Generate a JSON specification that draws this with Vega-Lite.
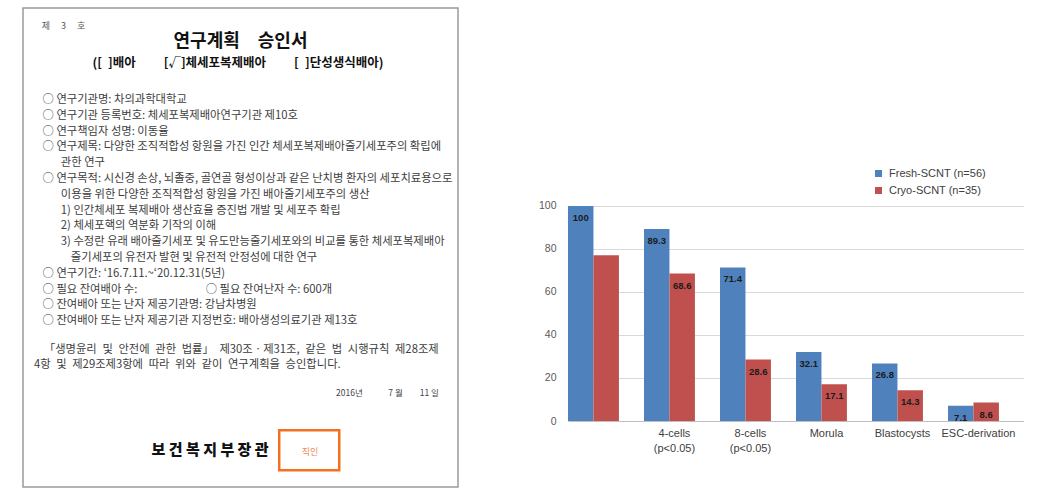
{
  "$schema": "https://vega.github.io/schema/vega-lite/v6.json",
  "padding": {"left": 22, "top": 7, "right": 0, "bottom": 0},
  "background": "white",
  "spacing": 79,
  "config": {"view": {"stroke": null}, "font": "Liberation Sans"},
  "datasets": {
    "bars": [
      {"stage": "", "series": "Fresh-SCNT (n=56)", "value": 100, "labeled": true},
      {"stage": "", "series": "Cryo-SCNT (n=35)", "value": 77.1, "labeled": false},
      {"stage": "4-cells (p<0.05)", "series": "Fresh-SCNT (n=56)", "value": 89.3, "labeled": true},
      {"stage": "4-cells (p<0.05)", "series": "Cryo-SCNT (n=35)", "value": 68.6, "labeled": true},
      {"stage": "8-cells (p<0.05)", "series": "Fresh-SCNT (n=56)", "value": 71.4, "labeled": true},
      {"stage": "8-cells (p<0.05)", "series": "Cryo-SCNT (n=35)", "value": 28.6, "labeled": true},
      {"stage": "Morula", "series": "Fresh-SCNT (n=56)", "value": 32.1, "labeled": true},
      {"stage": "Morula", "series": "Cryo-SCNT (n=35)", "value": 17.1, "labeled": true},
      {"stage": "Blastocysts", "series": "Fresh-SCNT (n=56)", "value": 26.8, "labeled": true},
      {"stage": "Blastocysts", "series": "Cryo-SCNT (n=35)", "value": 14.3, "labeled": true},
      {"stage": "ESC-derivation", "series": "Fresh-SCNT (n=56)", "value": 7.1, "labeled": true},
      {"stage": "ESC-derivation", "series": "Cryo-SCNT (n=35)", "value": 8.6, "labeled": true}
    ],
    "doc": [
      {"part": "header", "line": -4.68, "col": 4.3, "text": "제\u2003 3\u2003 호"},
      {"part": "title", "line": -3.68, "col": 50, "text": "연구계획\u2003승인서"},
      {"part": "subtitle", "line": -2.32, "col": 49.4, "text": "([\u2002]배아\u2003\u2003 [√]체세포복제배아\u2003\u2003 [\u2002]단성생식배아)"},
      {"part": "body", "line": 0, "col": 4.5, "text": "○ 연구기관명: 차의과학대학교"},
      {"part": "body", "line": 1, "col": 4.5, "text": "○ 연구기관 등록번호: 체세포복제배아연구기관 제10호"},
      {"part": "body", "line": 2, "col": 4.5, "text": "○ 연구책임자 성명: 이동율"},
      {"part": "body", "line": 3, "col": 4.5, "text": "○ 연구제목: 다양한 조직적합성 항원을 가진 인간 체세포복제배아줄기세포주의 확립에"},
      {"part": "body", "line": 4, "col": 8.7, "text": "관한 연구"},
      {"part": "body", "line": 5, "col": 4.5, "text": "○ 연구목적: 시신경 손상, 뇌졸중, 골연골 형성이상과 같은 난치병 환자의 세포치료용으로"},
      {"part": "body", "line": 6, "col": 8.7, "text": "이용을 위한 다양한 조직적합성 항원을 가진 배아줄기세포주의 생산"},
      {"part": "body", "line": 7, "col": 8.7, "text": "1) 인간체세포 복제배아 생산효율 증진법 개발 및 세포주 확립"},
      {"part": "body", "line": 8, "col": 8.7, "text": "2) 체세포핵의 역분화 기작의 이해"},
      {"part": "body", "line": 9, "col": 8.7, "text": "3) 수정란 유래 배아줄기세포 및 유도만능줄기세포와의 비교를 통한 체세포복제배아"},
      {"part": "body", "line": 10, "col": 11, "text": "줄기세포의 유전자 발현 및 유전적 안정성에 대한 연구"},
      {"part": "body", "line": 11, "col": 4.5, "text": "○ 연구기간: ‘16.7.11.~‘20.12.31(5년)"},
      {"part": "body", "line": 12, "col": 4.5, "text": "○ 필요 잔여배아 수:"},
      {"part": "body", "line": 12, "col": 42, "text": "○ 필요 잔여난자 수: 600개"},
      {"part": "body", "line": 13, "col": 4.5, "text": "○ 잔여배아 또는 난자 제공기관명: 강남차병원"},
      {"part": "body", "line": 14, "col": 4.5, "text": "○ 잔여배아 또는 난자 제공기관 지정번호: 배아생성의료기관 제13호"},
      {"part": "body", "line": 15.8, "col": 4.8, "text": "「생명윤리\u2002및\u2002안전에\u2002관한\u2002법률」\u2002제30조ㆍ제31조,\u2002같은\u2002법\u2002시행규칙\u2002제28조제"},
      {"part": "body", "line": 16.8, "col": 2.5, "text": "4항\u2002및\u2002제29조제3항에\u2002따라\u2002위와\u2002같이\u2002연구계획을\u2002승인합니다."},
      {"part": "date", "line": 18.54, "col": 95.6, "text": "2016년\u2003\u2003\u20037 월\u2003\u200311 일"},
      {"part": "sign", "line": 22.18, "col": 43, "text": "보 건 복 지 부 장 관"},
      {"part": "seal", "line": 22.26, "col": 66, "text": "직인"}
    ],
    "sealbox": [
      {"col": 58.9, "col2": 72.7, "line": 20.9, "line2": 23.44}
    ]
  },
  "hconcat": [
    {
      "width": 435,
      "height": 479,
      "view": {"stroke": "#9a9a9a", "strokeWidth": 1.5},
      "data": {"name": "doc"},
      "encoding": {
        "x": {"field": "col", "type": "quantitative", "scale": {"domain": [0, 100], "nice": false, "zero": false}, "axis": null},
        "y": {"field": "line", "type": "quantitative", "scale": {"domain": [-5.82, 24.5], "nice": false, "zero": false, "reverse": true}, "axis": null}
      },
      "layer": [
        {
          "transform": [{"filter": "datum.part == 'header'"}],
          "mark": {"type": "text", "align": "left", "baseline": "middle", "font": "Noto Sans CJK KR", "fontSize": 9, "color": "#555555"},
          "encoding": {"text": {"field": "text"}}
        },
        {
          "transform": [{"filter": "datum.part == 'title'"}],
          "mark": {"type": "text", "align": "center", "baseline": "middle", "font": "Noto Sans CJK KR", "fontSize": 18, "fontWeight": "bold", "color": "#111111"},
          "encoding": {"text": {"field": "text"}}
        },
        {
          "transform": [{"filter": "datum.part == 'subtitle'"}],
          "mark": {"type": "text", "align": "center", "baseline": "middle", "font": "Noto Sans CJK KR", "fontSize": 12.5, "fontWeight": "bold", "color": "#111111"},
          "encoding": {"text": {"field": "text"}}
        },
        {
          "transform": [{"filter": "datum.part == 'body'"}],
          "mark": {"type": "text", "align": "left", "baseline": "middle", "font": "Noto Sans CJK KR", "fontSize": 11.3, "color": "#3d3d3d"},
          "encoding": {"text": {"field": "text"}}
        },
        {
          "transform": [{"filter": "datum.part == 'date'"}],
          "mark": {"type": "text", "align": "right", "baseline": "middle", "font": "Noto Sans CJK KR", "fontSize": 8.5, "color": "#444444"},
          "encoding": {"text": {"field": "text"}}
        },
        {
          "transform": [{"filter": "datum.part == 'sign'"}],
          "mark": {"type": "text", "align": "center", "baseline": "middle", "font": "Noto Sans CJK KR", "fontSize": 15, "fontWeight": 900, "color": "#111111"},
          "encoding": {"text": {"field": "text"}}
        },
        {
          "transform": [{"filter": "datum.part == 'seal'"}],
          "mark": {"type": "text", "align": "center", "baseline": "middle", "font": "Noto Sans CJK KR", "fontSize": 9, "color": "#F08A55"},
          "encoding": {"text": {"field": "text"}}
        },
        {
          "data": {"name": "sealbox"},
          "mark": {"type": "rect", "fillOpacity": 0, "stroke": "#F36F21", "strokeWidth": 2.5},
          "encoding": {
            "x2": {"field": "col2"},
            "y2": {"field": "line2"}
          }
        }
      ]
    },
    {
      "width": 456,
      "height": 413,
      "data": {"name": "bars"},
      "encoding": {
        "x": {
          "field": "stage", "type": "nominal",
          "sort": ["", "4-cells (p<0.05)", "8-cells (p<0.05)", "Morula", "Blastocysts", "ESC-derivation"],
          "scale": {"paddingInner": 0.33, "paddingOuter": 0.165, "align": 0},
          "axis": {"title": null, "labelAngle": 0, "labelExpr": "split(datum.label, ' ')", "ticks": false, "domainColor": "#BFBFBF", "labelFontSize": 11, "labelColor": "#404040", "labelPadding": 6, "labelLineHeight": 15, "labelOffset": 5, "grid": false}
        },
        "xOffset": {"field": "series", "sort": ["Fresh-SCNT (n=56)", "Cryo-SCNT (n=35)"]},
        "y": {
          "field": "value", "type": "quantitative",
          "scale": {"domain": [0, 192.09], "nice": false},
          "axis": {"values": [0, 20, 40, 60, 80, 100], "title": null, "domain": false, "ticks": false, "tickSize": 0, "labelPadding": 12, "labelFontSize": 10.5, "labelColor": "#595959", "gridColor": "#D9D9D9"}
        }
      },
      "layer": [
        {
          "mark": {"type": "bar"},
          "encoding": {
            "color": {
              "field": "series", "type": "nominal",
              "sort": ["Fresh-SCNT (n=56)", "Cryo-SCNT (n=35)"],
              "scale": {"range": ["#4F81BD", "#C0504D"]},
              "legend": {"orient": "none", "legendX": 850, "legendY": 160, "title": null, "symbolType": "square", "symbolSize": 49, "symbolStrokeWidth": 0, "labelFontSize": 11, "labelColor": "#404040", "rowPadding": 5, "padding": 0, "labelOffset": 5}
            }
          }
        },
        {
          "transform": [{"filter": "datum.labeled"}],
          "mark": {"type": "text", "baseline": "top", "dy": 7, "fontSize": 9.5, "fontWeight": "bold", "color": "#1b1b1b"},
          "encoding": {"text": {"field": "value", "type": "nominal"}}
        }
      ]
    }
  ]
}
